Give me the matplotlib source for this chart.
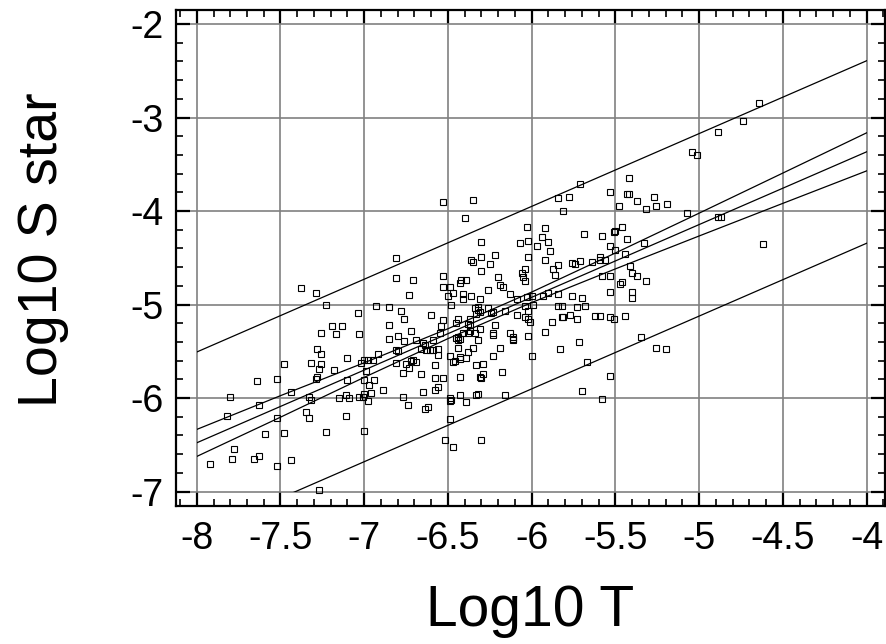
import matplotlib
matplotlib.use("Agg")
from matplotlib import pyplot as plt
from matplotlib.patches import Rectangle
from matplotlib.ticker import MultipleLocator

plt.rcParams['font.family'] = ['Liberation Sans', 'DejaVu Sans']

# scatter points (log10 T, log10 S*)
log_t = [
    -7.38, -7.29, -7.23, -6.93, -6.85, -7.04, -7.19, -7.13, -7.26, -7.17, -7.03, -6.85, -6.85,
    -7.28, -7.26, -7.32, -7.26, -7.27, -7.28, -7.29, -7.48, -7.64, -7.52, -7.44, -7.80, -7.63,
    -7.82, -7.52, -7.33, -7.32, -7.35, -7.33, -7.10, -7.18, -7.10, -7.00, -6.98, -6.95, -6.92,
    -7.02, -6.99, -7.00, -6.94, -6.97, -6.89, -6.96, -7.15, -7.11, -7.09, -7.03, -7.01, -7.00,
    -6.98, -7.11, -7.23, -7.00, -7.59, -7.48, -7.78, -7.79, -7.66, -7.63, -7.92, -7.52, -7.44,
    -7.27,
    -5.71, -5.84, -5.78, -5.81, -6.53, -6.35, -6.40, -6.03, -5.92, -5.69, -5.94, -5.90, -5.97,
    -6.07, -6.02, -6.30, -5.89, -6.02, -5.92, -6.22, -6.30, -6.36, -6.35, -6.25, -6.30, -6.81,
    -6.81, -6.71, -6.53, -6.42, -6.43, -6.39, -6.49, -6.53, -6.26, -6.20, -6.19, -6.17, -6.04,
    -6.06, -6.05, -6.04, -5.87, -5.84, -5.86, -5.76, -5.74, -5.71,
    -4.64, -4.74, -4.89, -5.04, -5.01, -5.42, -5.53, -5.43, -5.42, -5.37, -5.27, -5.19, -5.26,
    -5.32, -5.48, -5.07, -4.89, -4.87, -4.62, -5.46, -5.50, -5.51, -5.58, -5.43, -5.33, -5.53,
    -5.50, -5.44, -5.59, -5.59, -5.56, -5.64, -5.41, -5.40, -5.37, -5.32, -5.58, -5.53, -5.46,
    -5.47,
    -5.53, -5.40, -5.40, -5.62, -5.59, -5.53, -5.51, -5.44, -5.35, -5.26, -5.20, -5.53, -5.58,
    -6.73, -6.50, -6.47, -6.41, -6.41, -6.36, -6.31, -6.13, -6.09, -6.03, -6.00, -5.93, -5.90,
    -5.84, -5.76, -5.70, -6.48, -6.34, -6.32, -6.32, -6.33, -6.31, -6.26, -6.24, -6.23, -6.16,
    -6.09, -6.04, -6.02, -5.99, -6.04, -6.01, -6.02, -5.84, -5.82, -5.82, -5.81, -5.77, -5.73,
    -5.68, -5.73, -5.88, -5.92, -5.72, -5.83, -6.00, -6.02, -6.13, -6.11, -6.11, -6.11, -6.19,
    -6.23, -6.23, -6.22, -6.32, -6.35, -6.38, -6.23, -6.39, -6.29, -6.18, -6.29, -6.31, -6.30,
    -6.43, -6.33, -6.31, -6.34, -6.37, -6.38, -6.37, -6.37, -6.38, -6.45, -6.44, -6.43, -6.44,
    -6.41, -6.44, -6.45, -6.53, -6.54, -6.55, -6.60, -6.59, -6.65, -6.64, -6.66, -6.63, -6.61,
    -6.59, -6.56, -6.56, -6.49, -6.47, -6.46, -6.43, -6.43, -6.44, -6.58, -6.66, -6.58, -6.53,
    -6.56, -6.58, -6.65, -6.77, -6.73, -6.72, -6.71, -6.69, -6.75, -6.81, -6.80, -6.81, -6.76,
    -6.72, -6.76, -6.78, -6.80, -6.69, -6.77, -6.74, -6.64, -6.62, -6.49, -6.48, -6.49, -6.43,
    -6.39, -6.33, -6.32, -6.16, -6.49, -6.52, -6.47, -6.30, -5.70, -5.67,
]
log_s = [
    -4.82, -4.88, -5.00, -5.02, -5.03, -5.09, -5.23, -5.23, -5.31, -5.32, -5.32, -5.22, -5.37,
    -5.48, -5.53, -5.63, -5.64, -5.69, -5.77, -5.80, -5.64, -5.82, -5.80, -5.94, -5.99, -6.07,
    -6.19, -6.21, -5.99, -6.02, -6.15, -6.21, -5.57, -5.70, -5.81, -5.59, -5.59, -5.59, -5.53,
    -5.63, -5.71, -5.81, -5.81, -5.86, -5.91, -5.95, -6.00, -5.97, -6.00, -5.99, -5.99, -5.96,
    -6.03, -6.19, -6.36, -6.35, -6.39, -6.37, -6.55, -6.65, -6.65, -6.62, -6.71, -6.73, -6.66,
    -6.98,
    -3.71, -3.86, -3.85, -4.00, -3.90, -3.88, -4.08, -4.17, -4.18, -4.25, -4.28, -4.33, -4.37,
    -4.34, -4.32, -4.33, -4.43, -4.49, -4.52, -4.47, -4.49, -4.52, -4.55, -4.57, -4.64, -4.50,
    -4.72, -4.74, -4.69, -4.74, -4.77, -4.74, -4.81, -4.81, -4.84, -4.71, -4.79, -4.81, -4.62,
    -4.66, -4.71, -4.75, -4.62, -4.58, -4.68, -4.56, -4.57, -4.53,
    -2.85, -3.04, -3.16, -3.37, -3.40, -3.65, -3.80, -3.82, -3.82, -3.89, -3.85, -3.93, -3.95,
    -3.98, -3.95, -4.02, -4.06, -4.06, -4.35, -4.17, -4.21, -4.22, -4.27, -4.30, -4.34, -4.37,
    -4.42, -4.46, -4.49, -4.52, -4.52, -4.55, -4.59, -4.66, -4.70, -4.75, -4.69, -4.69, -4.76,
    -4.78,
    -4.87, -4.87, -4.93, -5.12, -5.12, -5.13, -5.15, -5.12, -5.35, -5.47, -5.48, -5.76, -6.01,
    -4.90, -4.91, -4.88, -4.89, -4.94, -4.91, -4.94, -4.89, -4.94, -4.92, -4.91, -4.91, -4.88,
    -4.89, -4.91, -4.93, -5.00, -5.04, -5.03, -5.06, -5.10, -5.08, -5.04, -5.09, -5.08, -5.07,
    -5.11, -5.02, -5.07, -5.00, -5.13, -5.19, -5.16, -5.02, -5.02, -5.13, -5.13, -5.11, -5.03,
    -5.02, -5.16, -5.19, -5.29, -5.40, -5.48, -5.55, -5.34, -5.31, -5.35, -5.38, -5.37, -5.47,
    -5.31, -5.33, -5.22, -5.38, -5.47, -5.51, -5.55, -5.57, -5.64, -5.72, -5.74, -5.78, -5.79,
    -5.78, -5.65, -5.26, -5.31, -5.15, -5.21, -5.22, -5.28, -5.31, -5.36, -5.35, -5.37, -5.38,
    -5.31, -5.15, -5.20, -5.17, -5.23, -5.31, -5.11, -5.38, -5.41, -5.43, -5.48, -5.49, -5.49,
    -5.49, -5.48, -5.54, -5.55, -5.61, -5.60, -5.56, -5.58, -5.46, -5.65, -5.74, -5.79, -5.79,
    -5.88, -5.91, -5.94, -5.73, -5.68, -5.60, -5.59, -5.61, -5.64, -5.63, -5.50, -5.49, -5.39,
    -5.28, -5.16, -5.07, -5.34, -5.38, -5.99, -6.08, -6.12, -6.10, -6.00, -6.02, -6.03, -5.97,
    -6.04, -5.97, -5.96, -5.97, -6.22, -6.45, -6.52, -6.45, -5.93, -5.62,
]

# regression line and confidence bands, read at these x values
band_x = [-8, -7.5, -7, -6.5, -6, -5.5, -5, -4.5, -4]
fit_y = [-6.479, -6.090, -5.701, -5.312, -4.923, -4.534, -4.145, -3.756, -3.367]
conf_hi = [-6.336, -5.975, -5.623, -5.259, -4.867, -4.449, -4.023, -3.594, -3.164]
conf_lo = [-6.625, -6.205, -5.779, -5.365, -4.979, -4.619, -4.267, -3.918, -3.571]

# prediction bands
pred_x = [-8, -4]
pred_hi = [-5.508, -2.393]
pred_lo = [-7.46, -4.345]

xticks = [-8, -7.5, -7, -6.5, -6, -5.5, -5, -4.5, -4]
xtick_labels = ['-8', '-7.5', '-7', '-6.5', '-6', '-5.5', '-5', '-4.5', '-4']
yticks = [-7, -6, -5, -4, -3, -2]
ytick_labels = ['-7', '-6', '-5', '-4', '-3', '-2']

fig = plt.figure(figsize=(8.87, 6.44), dpi=100)
ax = fig.add_axes([176 / 887, 1 - 506 / 644, 709 / 887, 496 / 644])
ax.set_xlim(-8.124, -3.89)
ax.set_ylim(-7.155, -1.85)

ax.grid(which='major', color='#808080', linewidth=1.2)
ax.set_axisbelow(True)

# lines only drawn inside the -8..-4 / -7..-2 box
clip = Rectangle((-8, -7), 4, 5, transform=ax.transData)
for yy in (fit_y, conf_hi, conf_lo):
    ln, = ax.plot(band_x, yy, color='black', linewidth=0.9)
    ln.set_clip_path(clip)
for yy in (pred_hi, pred_lo):
    ln, = ax.plot(pred_x, yy, color='black', linewidth=0.9)
    ln.set_clip_path(clip)

ax.plot(log_t, log_s, 's', mfc='none', mec='black', ms=4.8, mew=0.8)

ax.set_xticks(xticks)
ax.set_xticklabels(xtick_labels)
ax.set_yticks(yticks)
ax.set_yticklabels(ytick_labels)
ax.xaxis.set_minor_locator(MultipleLocator(0.1))
ax.yaxis.set_minor_locator(MultipleLocator(0.2))

ax.tick_params(which='both', direction='in', top=True, right=True, colors='black')
ax.tick_params(which='major', length=10, width=1.6, labelsize=27)
ax.tick_params(axis='x', which='major', pad=11)
ax.tick_params(axis='y', which='major', pad=9)
ax.tick_params(which='minor', length=5, width=1.2)
for sp in ax.spines.values():
    sp.set_linewidth(1.6)

ax.set_xlabel('Log10 T', fontsize=41)
ax.xaxis.set_label_coords(0.499, -0.157)
ax.set_ylabel('Log10 S star', fontsize=40)
ax.yaxis.set_label_coords(-0.151, 0.516)

fig.savefig('out.png', dpi=100)
